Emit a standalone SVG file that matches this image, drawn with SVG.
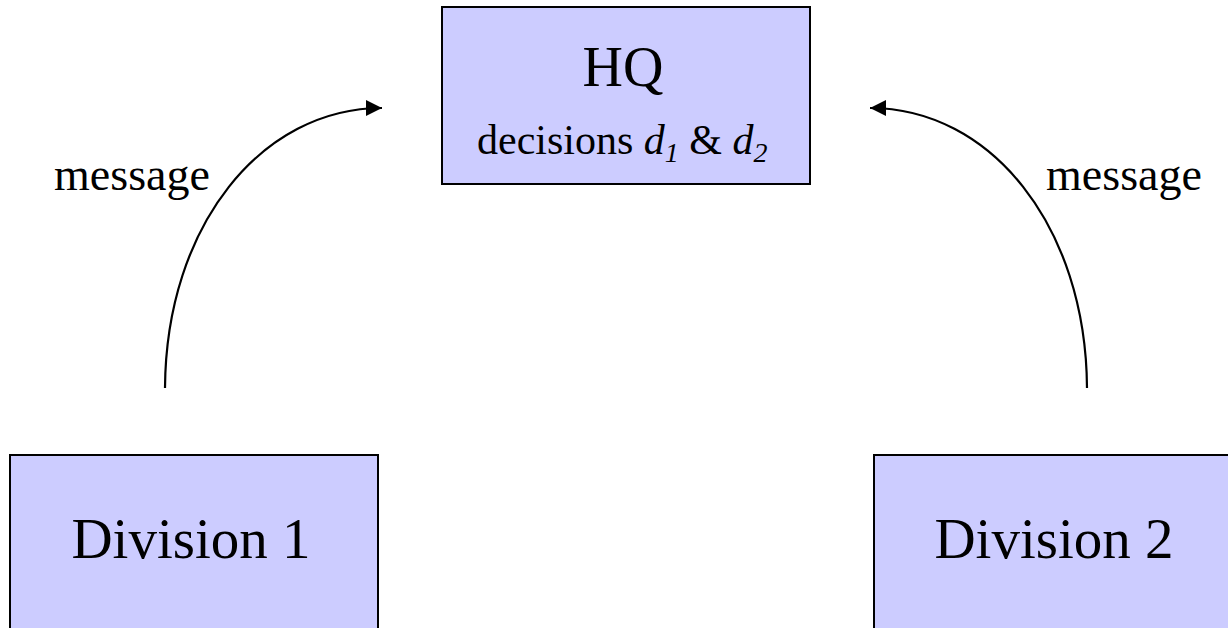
<svg xmlns="http://www.w3.org/2000/svg" width="1228" height="628" viewBox="0 0 1228 628">
<style>
.box{fill:#CCCCFF;stroke:#000;stroke-width:2}
.t{font-family:"Liberation Serif","Times New Roman",serif;fill:#000}
.edge{fill:none;stroke:#000;stroke-width:2.2}
</style>
<defs>
<marker id="ah" markerUnits="userSpaceOnUse" markerWidth="17" markerHeight="16" refX="16" refY="8" orient="auto">
<path d="M0,0 L16,8 L0,16 z" fill="#000"/>
</marker>
</defs>
<rect width="1228" height="628" fill="#fff"/>
<g id="hq">
<rect class="box" x="442" y="7" width="368" height="177"/>
<text class="t" x="623" y="86" font-size="56" text-anchor="middle">HQ</text>
<text class="t" x="477" y="154" font-size="42">decisions <tspan font-style="italic">d</tspan><tspan font-style="italic" font-size="28" dy="8">1</tspan><tspan dy="-8"> &amp; </tspan><tspan font-style="italic">d</tspan><tspan font-style="italic" font-size="28" dy="8">2</tspan></text>
</g>
<g id="division1">
<rect class="box" x="10" y="455" width="368" height="200"/>
<text class="t" x="191" y="558" font-size="57" text-anchor="middle">Division 1</text>
</g>
<g id="division2">
<rect class="box" x="874" y="455" width="368" height="200"/>
<text class="t" x="1054" y="558" font-size="57" text-anchor="middle">Division 2</text>
</g>
<g id="connectors">
<path class="edge" d="M165,388 C166,225 262,108 382,108" marker-end="url(#ah)"/>
<path class="edge" d="M1087,388 C1086,225 990,108 870,108" marker-end="url(#ah)"/>
<text class="t" x="132" y="190" font-size="46" text-anchor="middle">message</text>
<text class="t" x="1124" y="190" font-size="46" text-anchor="middle">message</text>
</g>
</svg>
